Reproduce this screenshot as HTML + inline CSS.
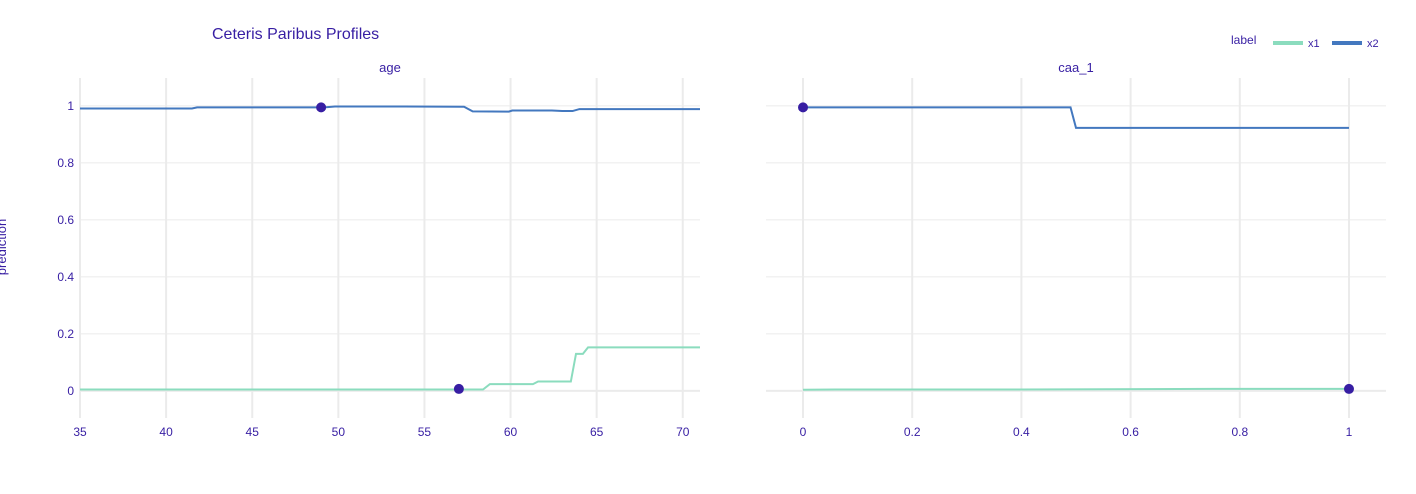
<!DOCTYPE html>
<html><head><meta charset="utf-8"><style>
body{margin:0;background:#fff;}
svg text{font-family:"Liberation Sans",Arial,sans-serif;fill:#371ea3;}
</style></head><body>
<svg id="chart" width="1416" height="489">
<text x="212" y="39" font-size="16">Ceteris Paribus Profiles</text>
<text x="390" y="72" font-size="13" text-anchor="middle">age</text>
<text x="1076" y="72" font-size="13" text-anchor="middle">caa_1</text>
<text transform="translate(6,247) rotate(-90)" font-size="13" text-anchor="middle">prediction</text>
<g>
<text x="1231" y="44" font-size="12">label</text>
<line x1="1273" y1="43" x2="1303" y2="43" stroke="#8bdcbe" stroke-width="4"/>
<text x="1308" y="47" font-size="11">x1</text>
<line x1="1332" y1="43" x2="1362" y2="43" stroke="#4378bf" stroke-width="4"/>
<text x="1367" y="47" font-size="11">x2</text>
</g>
<g id="p1"></g>
<g id="p2"></g>
</svg>
<script>
const ageX1 = [35, 58.4, 58.8, 61.3, 61.6, 63.5, 63.8, 64.2, 64.5, 71];
const ageY1 = [0.005, 0.005, 0.024, 0.024, 0.033, 0.033, 0.13, 0.13, 0.153, 0.153];
const ageX2 = [35, 41.5, 41.8, 49.2, 49.8, 53.8, 57.3, 57.8, 59.9, 60.1, 62.4, 63.0, 63.6, 64.0, 71];
const ageY2 = [0.991, 0.991, 0.995, 0.995, 0.998, 0.998, 0.997, 0.981, 0.980, 0.984, 0.984, 0.982, 0.982, 0.989, 0.989];
const ageDots = [[49, 0.995, 'x2'], [57, 0.007, 'x1']];
const caaX1 = [0, 0.06, 0.4, 0.75, 1];
const caaY1 = [0.004, 0.005, 0.005, 0.007, 0.007];
const caaX2 = [0, 0.49, 0.5, 1];
const caaY2 = [0.995, 0.995, 0.923, 0.923];
const caaDots = [[0, 0.995, 'x2'], [1, 0.007, 'x1']];
const ageTicks = [35, 40, 45, 50, 55, 60, 65, 70];
const caaTicks = [0, 0.2, 0.4, 0.6, 0.8, 1];
const yTicks = [0, 0.2, 0.4, 0.6, 0.8, 1];

const NS = 'http://www.w3.org/2000/svg';
function el(parent, tag, attrs){const e=document.createElementNS(NS,tag);for(const k in attrs)e.setAttribute(k,attrs[k]);parent.appendChild(e);return e;}
const yMin=-0.095, yMax=1.098, yTop=78, yBot=418;
function sy(v){return yBot-(v-yMin)/(yMax-yMin)*(yBot-yTop);}
function panel(g, x0, x1, dMin, dMax, xt, fmt, lx1, ly1, lx2, ly2, dots, showY){
  const sx=v=>x0+(v-dMin)/(dMax-dMin)*(x1-x0);
  xt.forEach(t=>{
    const l=el(g,'line',{x1:sx(t),x2:sx(t),y1:yTop,y2:yBot,stroke:'#ebebeb','stroke-width':2});
    
    
    const tx=el(g,'text',{x:sx(t),y:436,'font-size':12,'text-anchor':'middle'});
    tx.textContent=fmt(t);
    
    
  });
  yTicks.forEach(t=>{
    const l=el(g,'line',{x1:x0,x2:x1,y1:sy(t),y2:sy(t),stroke:'#ebebeb','stroke-width':t===0?2:1});
    
    
    if(showY){
      const tx=el(g,'text',{x:74,y:sy(t)+4,'font-size':12,'text-anchor':'end'});
      tx.textContent=String(t);
      
      
    }
  });
  const p1=el(g,'polyline',{points:lx1.map((v,i)=>sx(v)+','+sy(ly1[i])).join(' '),fill:'none',stroke:'#8bdcbe','stroke-width':2});
  
  
  const p2=el(g,'polyline',{points:lx2.map((v,i)=>sx(v)+','+sy(ly2[i])).join(' '),fill:'none',stroke:'#4378bf','stroke-width':2});
  
  
  dots.forEach(d=>{
    const c=el(g,'circle',{cx:sx(d[0]),cy:sy(d[1]),r:5,fill:'#371ea3'});
    
    
  });
}
panel(document.getElementById('p1'),80,700,35,71,ageTicks,String,ageX1,ageY1,ageX2,ageY2,ageDots,true);
panel(document.getElementById('p2'),766,1386,-0.0678,1.0678,caaTicks,String,caaX1,caaY1,caaX2,caaY2,caaDots,false);
</script>
</body></html>
